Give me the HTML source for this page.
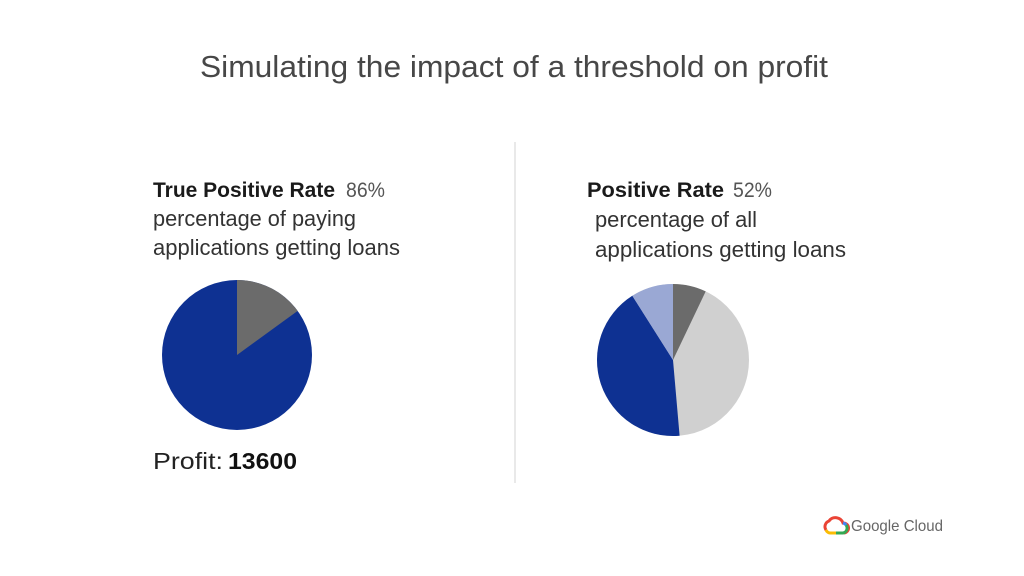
<!DOCTYPE html>
<html><head><meta charset="utf-8"><style>
html,body{margin:0;padding:0;background:#fff;}
svg{display:block;}
text{font-family:"Liberation Sans",sans-serif;}
</style></head><body>
<svg width="1024" height="576" viewBox="0 0 1024 576" xmlns="http://www.w3.org/2000/svg">
<rect width="1024" height="576" fill="#fff"/>
<text x="200" y="77" font-size="31" fill="#474747" textLength="628" lengthAdjust="spacingAndGlyphs">Simulating the impact of a threshold on profit</text>
<line x1="515" y1="142" x2="515" y2="483" stroke="#e2e2e2" stroke-width="1.5"/>

<text x="153" y="197" font-size="21" font-weight="bold" fill="#1a1a1a" textLength="182" lengthAdjust="spacingAndGlyphs">True Positive Rate</text>
<text x="346" y="197" font-size="21" fill="#555" textLength="39" lengthAdjust="spacingAndGlyphs">86%</text>
<text x="153" y="226" font-size="22" fill="#333" textLength="203" lengthAdjust="spacingAndGlyphs">percentage of paying</text>
<text x="153" y="255" font-size="22" fill="#333" textLength="247" lengthAdjust="spacingAndGlyphs">applications getting loans</text>

<circle cx="237" cy="355" r="75" fill="#0e3192"/>
<path d="M237,355 L237,280 A75,75 0 0 1 297.7,310.9 Z" fill="#6b6b6b"/>

<text x="153" y="469" font-size="23" fill="#222" textLength="70" lengthAdjust="spacingAndGlyphs">Profit:</text>
<text x="228" y="469" font-size="23" font-weight="bold" fill="#111" textLength="69" lengthAdjust="spacingAndGlyphs">13600</text>

<text x="587" y="197" font-size="21" font-weight="bold" fill="#1a1a1a" textLength="137" lengthAdjust="spacingAndGlyphs">Positive Rate</text>
<text x="733" y="197" font-size="21" fill="#555" textLength="39" lengthAdjust="spacingAndGlyphs">52%</text>
<text x="595" y="227" font-size="22" fill="#333" textLength="162" lengthAdjust="spacingAndGlyphs">percentage of all</text>
<text x="595" y="257" font-size="22" fill="#333" textLength="251" lengthAdjust="spacingAndGlyphs">applications getting loans</text>

<circle cx="673" cy="360" r="76" fill="#d0d0d0"/>
<path d="M673,360 L673,284 A76,76 0 0 1 705.7,291.4 Z" fill="#6b6b6b"/>
<path d="M673,360 L679.6,435.7 A76,76 0 0 1 632.3,295.8 Z" fill="#0e3192"/>
<path d="M673,360 L632.3,295.8 A76,76 0 0 1 673,284 Z" fill="#9aa8d4"/>

<g transform="translate(822,514)">
<path d="M4,16 a6,6 0 0 1 3,-9 a8,8 0 0 1 14,2 a5,5 0 0 1 1,10" fill="none" stroke="#ea4335" stroke-width="3"/>
<path d="M4,16 a5,5 0 0 0 5,3 h5" fill="none" stroke="#fbbc05" stroke-width="3"/>
<path d="M14,19 h7 a5,5 0 0 0 3,-8" fill="none" stroke="#34a853" stroke-width="3"/>
<path d="M21,9 a5,5 0 0 1 3,2" fill="none" stroke="#4285f4" stroke-width="3"/>
</g>
<text x="851" y="531" font-size="16" fill="#666" textLength="92" lengthAdjust="spacingAndGlyphs">Google Cloud</text>
</svg>
</body></html>
